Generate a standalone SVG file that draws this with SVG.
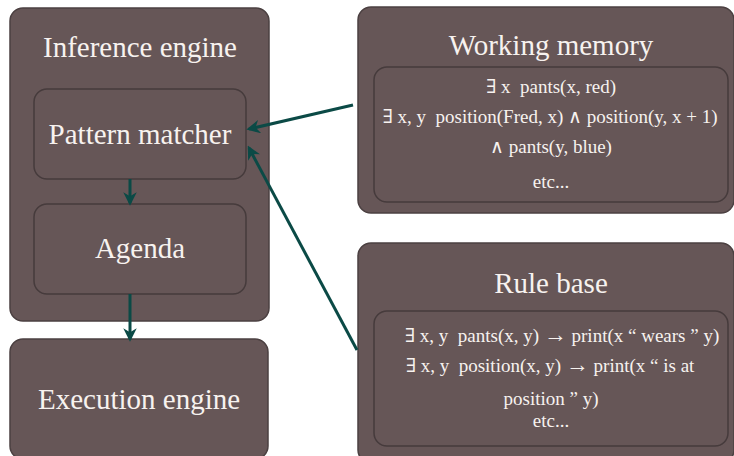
<svg xmlns="http://www.w3.org/2000/svg" width="734" height="456" viewBox="0 0 734 456">
<style>
.box{fill:#665657;stroke:#4b4041;stroke-width:1.5}
.inner{fill:#665657;stroke:#463b3c;stroke-width:1.5}
.t{font-family:"Liberation Serif","DejaVu Serif",serif;fill:#f7f2ef;text-anchor:middle;white-space:pre}
.title{font-size:29px}
.body{font-size:19px}
.arr{font-size:23px}
.conn{stroke:#0b4a46;stroke-width:3;fill:none}
</style>
<defs>
<marker id="ah" viewBox="0 0 10 10" refX="8" refY="5" markerWidth="4.5" markerHeight="4.5" orient="auto" markerUnits="strokeWidth">
<path d="M0,0 L10,5 L0,10 L3,5 Z" fill="#0b4a46"/>
</marker>
</defs>
<rect width="734" height="456" fill="#ffffff"/>
<g id="inference-engine">
<rect class="box" x="10" y="8" width="259" height="313" rx="13"/>
<text class="t title" x="140" y="57">Inference engine</text>
</g>
<g id="pattern-matcher">
<rect class="inner" x="34" y="89" width="212" height="90" rx="13"/>
<text class="t title" x="140" y="144">Pattern matcher</text>
</g>
<g id="agenda">
<rect class="inner" x="34" y="204" width="212" height="90" rx="13"/>
<text class="t title" x="140" y="258">Agenda</text>
</g>
<g id="execution-engine">
<rect class="box" x="10" y="339" width="258" height="120" rx="13"/>
<text class="t title" x="139" y="409">Execution engine</text>
</g>
<g id="working-memory">
<rect class="box" x="358" y="7" width="376" height="206" rx="13"/>
<text class="t title" x="551" y="55">Working memory</text>
<rect class="inner" x="374" y="67" width="354" height="135" rx="13"/>
<text class="t body" x="551" y="93" xml:space="preserve">∃ x  pants(x, red)</text>
<text class="t body" x="550" y="123" xml:space="preserve">∃ x, y  position(Fred, x) ∧ position(y, x + 1)</text>
<text class="t body" x="551" y="153">∧ pants(y, blue)</text>
<text class="t body" x="551" y="188">etc...</text>
</g>
<g id="rule-base">
<rect class="box" x="358" y="243" width="376" height="220" rx="13"/>
<text class="t title" x="551" y="293">Rule base</text>
<rect class="inner" x="374" y="311" width="354" height="135" rx="13"/>
<text class="t body" x="562" y="342" xml:space="preserve">∃ x, y  pants(x, y) <tspan class="arr">→</tspan> print(x “ wears ” y)</text>
<text class="t body" x="550" y="372" xml:space="preserve">∃ x, y  position(x, y) <tspan class="arr">→</tspan> print(x “ is at</text>
<text class="t body" x="551" y="405">position ” y)</text>
<text class="t body" x="551" y="427">etc...</text>
</g>
<g id="connectors">
<line class="conn" x1="130" y1="179" x2="130" y2="203" marker-end="url(#ah)"/>
<line class="conn" x1="130" y1="294" x2="130" y2="339" marker-end="url(#ah)"/>
<line class="conn" x1="353" y1="105" x2="249" y2="129" marker-end="url(#ah)"/>
<line class="conn" x1="357" y1="350" x2="249" y2="148" marker-end="url(#ah)"/>
</g>
</svg>
